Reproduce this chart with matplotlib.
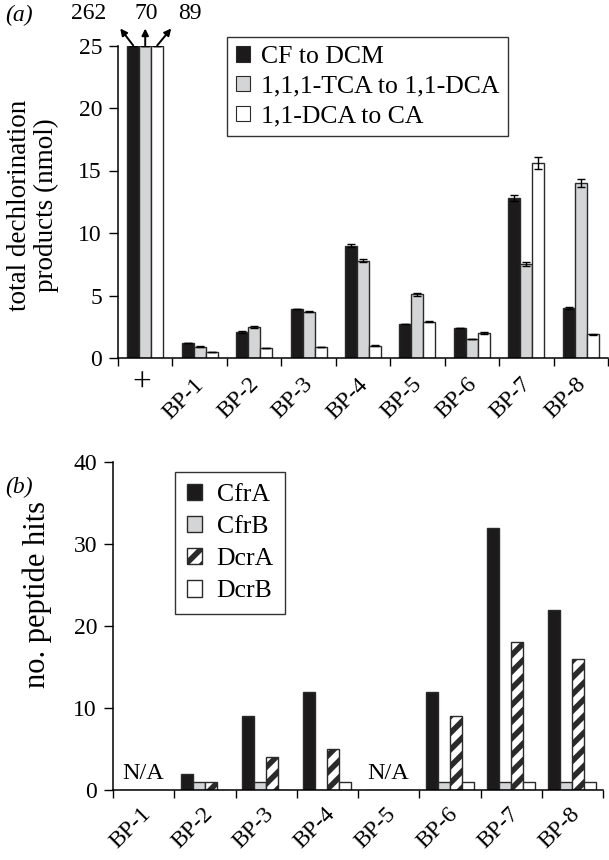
import matplotlib
matplotlib.use("Agg")
import matplotlib.pyplot as plt
import numpy as np
from matplotlib.transforms import ScaledTranslation, blended_transform_factory

plt.rcParams['font.family'] = ['Liberation Serif', 'DejaVu Serif']
plt.rcParams['hatch.linewidth'] = 4.0

# ---------------- data ----------------
cats_a = ['+', 'BP-1', 'BP-2', 'BP-3', 'BP-4', 'BP-5', 'BP-6', 'BP-7', 'BP-8']
series_a = ['CF to DCM', '1,1,1-TCA to 1,1-DCA', '1,1-DCA to CA']
cf_dcm = [25, 1.2, 2.1, 3.9, 9.0, 2.7, 2.4, 12.8, 4.0]
tca_dca = [25, 0.9, 2.5, 3.7, 7.8, 5.1, 1.5, 7.5, 14.0]
dca_ca = [25, 0.5, 0.8, 0.9, 1.0, 2.9, 2.0, 15.6, 1.9]
err_cf = [0, 0.0, 0.1, 0.0, 0.1, 0.0, 0.0, 0.25, 0.05]
err_tca = [0, 0.05, 0.1, 0.05, 0.1, 0.1, 0.0, 0.15, 0.3]
err_ca = [0, 0.0, 0.0, 0.0, 0.05, 0.05, 0.05, 0.45, 0.05]
plus_actual = [262, 70, 89]

cats_b = ['BP-1', 'BP-2', 'BP-3', 'BP-4', 'BP-5', 'BP-6', 'BP-7', 'BP-8']
series_b = ['CfrA', 'CfrB', 'DcrA', 'DcrB']
cfrA = [0, 2, 9, 12, 0, 12, 32, 22]
cfrB = [0, 1, 1, 0, 0, 1, 1, 1]
dcrA = [0, 1, 4, 5, 0, 9, 18, 16]
dcrB = [0, 0, 0, 1, 0, 1, 1, 1]
na_cats = ['BP-1', 'BP-5']

BLACK = '#1c1a1b'
GRAY = '#d4d5d7'
EDGE = '#2a2a2a'
TICK_FS = 17
PX = 0.72  # points per pixel at dpi 100

fig = plt.figure(figsize=(6.09, 8.60), dpi=100)


def style_axis(ax, ncat, labels, dx_px, pad_pt, skip_first=False):
    ax.set_xlim(-0.5, ncat - 0.5)
    ax.set_xticks(np.arange(ncat + 1) - 0.5)
    ax.set_xticklabels([])
    ax.set_xticks(np.arange(ncat), minor=True)
    labs = list(labels)
    if skip_first:
        labs[0] = ''
    ax.set_xticklabels(labs, minor=True, rotation=45, ha='right',
                       rotation_mode='anchor', fontsize=TICK_FS)
    ax.tick_params(axis='x', which='major', direction='out', length=5.5, width=1)
    ax.tick_params(axis='x', which='minor', length=0, pad=pad_pt)
    for lbl in ax.get_xticklabels(minor=True):
        lbl.set_transform(lbl.get_transform() + ScaledTranslation(dx_px/100, 0, fig.dpi_scale_trans))
    ax.tick_params(axis='y', which='major', direction='out', length=6.5, width=1,
                   labelsize=TICK_FS, pad=5)
    for s in ['top', 'right']:
        ax.spines[s].set_visible(False)
    for s in ['left', 'bottom']:
        ax.spines[s].set_linewidth(1.1)


# ---------------- panel (a) ----------------
ax1 = fig.add_axes([118/609, 1-358/860, (608-118)/609, (358-45.5)/860])
x = np.arange(len(cats_a))
w = 0.22
vals_a = [cf_dcm, tca_dca, dca_ca]
errs_a = [err_cf, err_tca, err_ca]
cols_a = [BLACK, GRAY, 'white']
for i, (v, e, c, lab) in enumerate(zip(vals_a, errs_a, cols_a, series_a)):
    ax1.bar(x + (i-1)*w, v, w, color=c, edgecolor=EDGE, linewidth=1.0, label=lab,
            yerr=e, error_kw=dict(ecolor='black', elinewidth=1.0, capsize=3, capthick=1.0))
ax1.set_ylim(0, 25)
ax1.set_yticks([0, 5, 10, 15, 20, 25])
style_axis(ax1, len(cats_a), cats_a, dx_px=-6, pad_pt=11.5, skip_first=True)
# the '+' category label is drawn upright
tr = blended_transform_factory(ax1.transData, ax1.transAxes)
ax1.text(x[0], 0, cats_a[0], transform=tr + ScaledTranslation(-3/100, -25/100, fig.dpi_scale_trans),
         ha='center', va='center', fontsize=24)

fig.text(33/609, 1-205/860, 'total dechlorination\nproducts (nmol)', rotation=90,
         ha='center', va='center', fontsize=19.5, linespacing=1.05)

# arrows + actual values for the '+' column
arrow_off = [(-13, 17), (0, 17), (14, 17)]
txt_off = [(-45, 32), (1, 32), (33, 32)]
for i in range(3):
    xp = x[0] + (i-1)*w
    ax1.annotate('', xy=(xp, 25), xycoords='data',
                 xytext=(arrow_off[i][0]*PX, arrow_off[i][1]*PX), textcoords='offset points',
                 arrowprops=dict(arrowstyle='<|-', color='black', lw=1.4,
                                 mutation_scale=10, shrinkA=0, shrinkB=0),
                 annotation_clip=False)
    ax1.annotate(str(plus_actual[i]), xy=(xp, 25),
                 xytext=(txt_off[i][0]*PX, txt_off[i][1]*PX), textcoords='offset points',
                 ha='center', va='center', fontsize=17, annotation_clip=False)

leg1 = fig.legend(*ax1.get_legend_handles_labels(), loc='upper left',
                  bbox_to_anchor=(227/609, 1-37/860),
                  fontsize=18.5, frameon=True, fancybox=False, edgecolor='black',
                  handlelength=0.56, handleheight=0.56, handletextpad=0.4,
                  borderpad=0.35, labelspacing=0.3, borderaxespad=0)
leg1.get_frame().set_linewidth(1.0)
for h in leg1.legend_handles:
    h.set_linewidth(0.8)

fig.text(5/609, 1-15/860, '(a)', fontsize=17, style='italic', va='center', ha='left')

# ---------------- panel (b) ----------------
ax2 = fig.add_axes([113/609, 1-790/860, (603-113)/609, (790-462)/860])
xb = np.arange(len(cats_b))
wb = 0.195
vals_b = [cfrA, cfrB, dcrA, dcrB]
cols_b = [BLACK, GRAY, 'white', 'white']
hatches = [None, None, '//', None]
for i, (v, c, h, lab) in enumerate(zip(vals_b, cols_b, hatches, series_b)):
    ax2.bar(xb + (i-1.5)*wb, v, wb, color=c, edgecolor=EDGE, linewidth=1.0,
            hatch=h, label=lab)
ax2.set_ylim(0, 40)
ax2.set_yticks([0, 10, 20, 30, 40])
style_axis(ax2, len(cats_b), cats_b, dx_px=-3, pad_pt=10)
for nc in na_cats:
    k = cats_b.index(nc)
    ax2.text(xb[k], 1.3, 'N/A', ha='center', va='baseline', fontsize=17.5)

fig.text(37/609, 1-594/860, 'no. peptide hits', rotation=90,
         ha='center', va='center', fontsize=22)

leg2 = fig.legend(*ax2.get_legend_handles_labels(), loc='upper left',
                  bbox_to_anchor=(175/609, 1-472/860),
                  fontsize=18.5, frameon=True, fancybox=False, edgecolor='black',
                  handlelength=0.62, handleheight=0.62, handletextpad=0.55,
                  borderpad=0.45, labelspacing=0.38, borderaxespad=0)
leg2.get_frame().set_linewidth(1.0)

fig.text(5/609, 1-487/860, '(b)', fontsize=17, style='italic', va='center', ha='left')

fig.savefig('out.png', dpi=100)
